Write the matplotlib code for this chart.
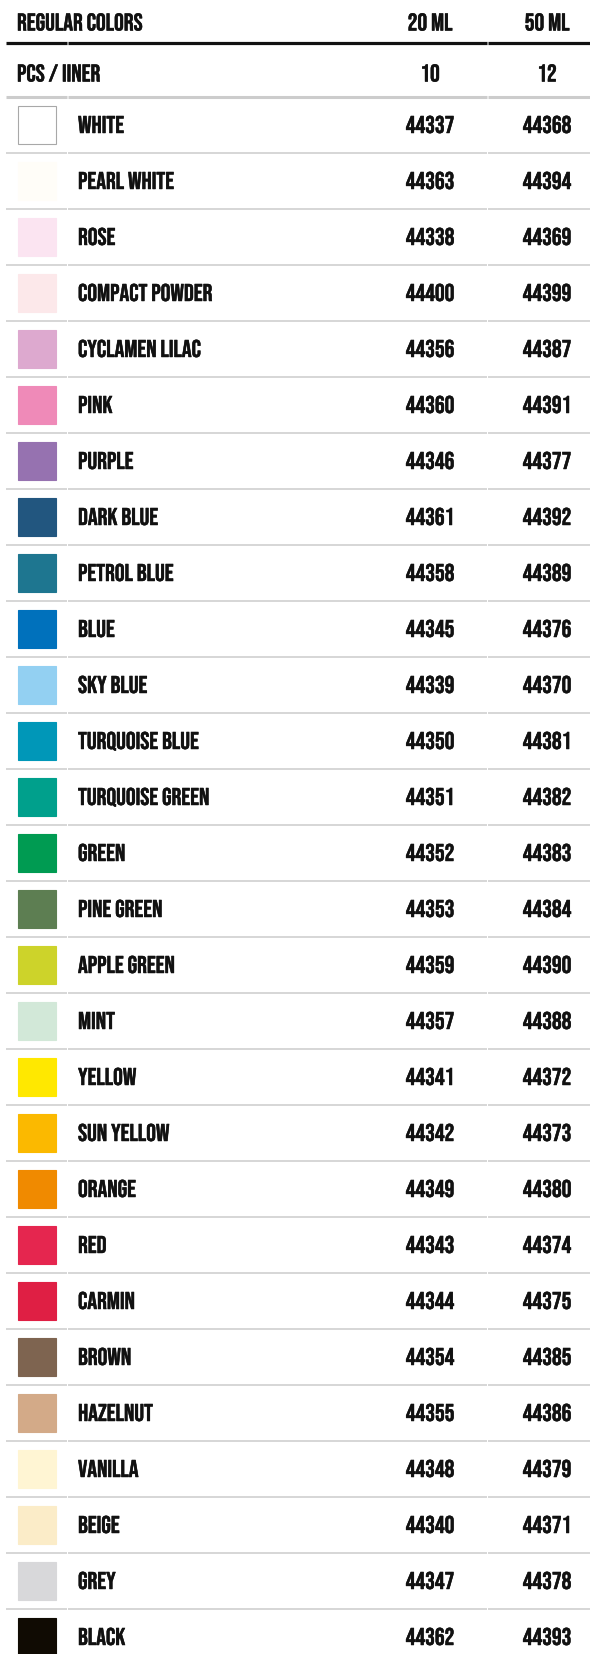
#!/usr/bin/env python3
# -*- coding: utf-8 -*-

import matplotlib
matplotlib.use("Agg")
import matplotlib.pyplot as plt
from matplotlib.patheffects import withStroke

# ---------- data ----------
header_title = "REGULAR COLORS"
size_labels = ["20 ML", "50 ML"]
pcs_label = "PCS / IINER"
pcs_values = ["10", "12"]

color_names = [
    "WHITE", "PEARL WHITE", "ROSE", "COMPACT POWDER", "CYCLAMEN LILAC", "PINK",
    "PURPLE", "DARK BLUE", "PETROL BLUE", "BLUE", "SKY BLUE", "TURQUOISE BLUE",
    "TURQUOISE GREEN", "GREEN", "PINE GREEN", "APPLE GREEN", "MINT", "YELLOW",
    "SUN YELLOW", "ORANGE", "RED", "CARMIN", "BROWN", "HAZELNUT", "VANILLA",
    "BEIGE", "GREY", "BLACK",
]
codes_20ml = [
    44337, 44363, 44338, 44400, 44356, 44360, 44346, 44361, 44358, 44345,
    44339, 44350, 44351, 44352, 44353, 44359, 44357, 44341, 44342, 44349,
    44343, 44344, 44354, 44355, 44348, 44340, 44347, 44362,
]
codes_50ml = [
    44368, 44394, 44369, 44399, 44387, 44391, 44377, 44392, 44389, 44376,
    44370, 44381, 44382, 44383, 44384, 44390, 44388, 44372, 44373, 44380,
    44374, 44375, 44385, 44386, 44379, 44371, 44378, 44393,
]
swatch_colors = [
    "#ffffff", "#fffdf8", "#fbe4f1", "#fce8ea", "#dda9cf", "#ef8ab8",
    "#9672b0", "#22567f", "#1e7690", "#0071bc", "#93d0f2", "#0097b8",
    "#00a08c", "#009b52", "#5d7e52", "#cdd32a", "#d2e8d8", "#ffe800",
    "#fbb900", "#f08a00", "#e5264f", "#df1f44", "#7e6450", "#d3aa88",
    "#fff5d3", "#fbecc8", "#d8d8da", "#100b03",
]

# ---------- layout (pixels horizontally, table rows vertically) ----------
W, H, DPI = 590, 1654, 100
ROW_PX = 56.0
FIRST_ROW_PX = 124.5
COL_20 = 430
COL_50 = 547
NAME_X = 78
SEGMENTS = [(6, 67), (68, 487), (488, 590)]

INK = "#111111"
FONT = dict(family=["Bebas Neue", "Oswald", "DejaVu Sans"], color=INK,
            path_effects=[withStroke(linewidth=0.35, foreground=INK)])


def px_to_row(py):
    return (py - FIRST_ROW_PX) / ROW_PX


def hline(ax, y, color, lw):
    for x0, x1 in SEGMENTS:
        ax.plot([x0, x1], [y, y], color=color, lw=lw, solid_capstyle="butt", zorder=1)


def main():
    fig = plt.figure(figsize=(W / DPI, H / DPI), dpi=DPI)
    ax = fig.add_axes([0, 0, 1, 1])
    ax.set_xlim(0, W)
    ax.set_ylim(px_to_row(H), px_to_row(0))
    ax.axis("off")

    rows = list(range(len(color_names)))

    # header
    y_head = px_to_row(22)
    y_pcs = px_to_row(73)
    ax.text(17, y_head, header_title, ha="left", va="center_baseline", fontsize=17.5, **FONT)
    for x, lab in zip([COL_20, COL_50], size_labels):
        ax.text(x, y_head, lab, ha="center", va="center_baseline", fontsize=17.5, **FONT)
    hline(ax, px_to_row(43), "#111111", 2.3)

    ax.text(17, y_pcs, pcs_label, ha="left", va="center_baseline", fontsize=17.5, **FONT)
    for x, lab in zip([COL_20, COL_50], pcs_values):
        ax.text(x, y_pcs, lab, ha="center", va="center_baseline", fontsize=17.5, **FONT)
    hline(ax, px_to_row(97), "#cccccc", 2.2)

    # swatches
    edges = ["#a8a8a8" if c == "#ffffff" else c for c in swatch_colors]
    ax.barh(rows, 38, left=18, height=38 / ROW_PX, color=swatch_colors,
            edgecolor=edges, linewidth=0.8, zorder=2)

    # rows
    for r, name, c20, c50 in zip(rows, color_names, codes_20ml, codes_50ml):
        ax.text(NAME_X, r, name, ha="left", va="center_baseline", fontsize=17.5, **FONT)
        ax.text(COL_20, r, str(c20), ha="center", va="center_baseline", fontsize=17.5, **FONT)
        ax.text(COL_50, r, str(c50), ha="center", va="center_baseline", fontsize=17.5, **FONT)
        if r < len(rows) - 1:
            hline(ax, r + 0.5, "#d3d3d3", 1.3)

    fig.savefig("out.png", dpi=DPI, facecolor="white")
    plt.close(fig)


if __name__ == "__main__":
    main()
